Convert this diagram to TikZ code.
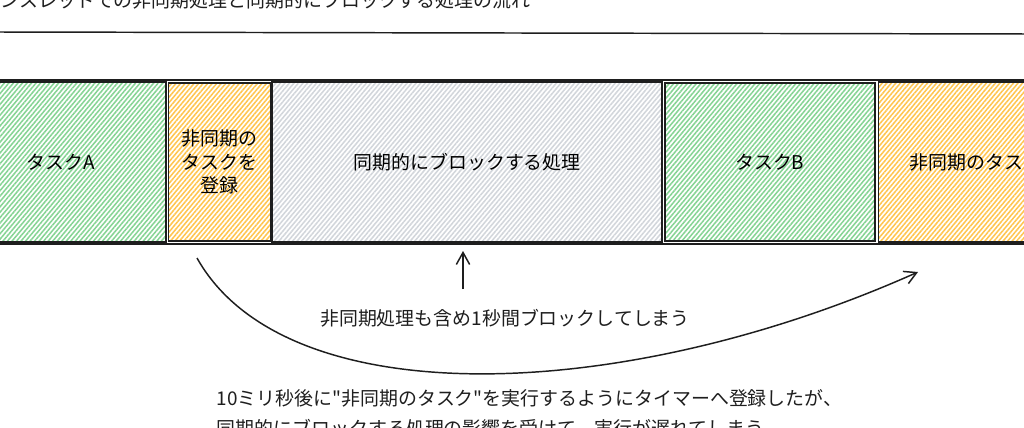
\documentclass[tikz,border=0pt]{standalone}
\usepackage{fontspec}
\newfontfamily\jpfont{Noto Sans CJK JP}
\usetikzlibrary{positioning, arrows.meta, patterns.meta}
\definecolor{taskgreen}{HTML}{86D494}
\definecolor{asyncorange}{HTML}{FFC550}
\definecolor{blockgray}{HTML}{D2D6DB}
\definecolor{inkline}{HTML}{1E1E1E}

\begin{document}
\begin{tikzpicture}[
    x=0.75pt, y=-0.75pt,
    >={Straight Barb[length=9pt,width=10pt]},
    font=\jpfont\fontsize{14.2}{21}\selectfont,
    line width=1.1pt,
    draw=inkline,
    node distance=0.75pt,
    slot/.style 2 args={minimum width=#1*0.75pt, minimum height=#2*0.75pt},
    box/.style={draw=inkline, line width=1.2pt, rectangle, inner sep=0pt, align=center},
    hatch/.style={pattern={Lines[angle=50, distance=2.6pt, line width=1.15pt]}, pattern color=#1},
    label/.style={text=inkline, inner sep=0pt}
  ]

  \useasboundingbox (0,0) rectangle (1024,428);
  \clip (0,0) rectangle (1024,428);
  \fill[white] (0,0) rectangle (1024,428);

  % --- TITLE ---
  \node[label, anchor=base west] (title) at (0,8) {ンスレッドでの非同期処理と同期的にブロックする処理の流れ};
  \coordinate (ruleL) at (-5,32);
  \coordinate (ruleR) at (1030,34);
  \draw[inkline] (ruleL) -- (ruleR);

  % --- TIMELINE ---
  \node[box, slot={1140}{164}] (lane) at (490,162) {};
  \node[box, hatch=taskgreen, slot={210}{160}] (taskA) at (61,162) {タスクA};
  \node[box, hatch=asyncorange, slot={102}{158}, right=of taskA,
        font=\jpfont\fontsize{14.2}{17.5}\selectfont] (regA) {非同期の\\タスクを\\登録};
  \node[box, hatch=blockgray, slot={390}{160}, right=0pt of regA] (block) {同期的にブロックする処理};
  \node[box, hatch=taskgreen, slot={210}{158}, right=of block] (taskB) {タスクB};
  \node[box, hatch=asyncorange, slot={195}{160}, right=1.5pt of taskB] (asyncTask) {非同期のタスク};

  % --- NOTES ---
  \node[label] (blockNote) at (505,318) {非同期処理も含め1秒間ブロックしてしまう};
  \node[label, anchor=north west, align=left, font=\jpfont\fontsize{14.2}{22.5}\selectfont] (delayNote) at (216,389)
    {10ミリ秒後に"非同期のタスク"を実行するようにタイマーへ登録したが、\\同期的にブロックする処理の影響を受けて、実行が遅れてしまう};

  % --- CONNECTORS ---
  \coordinate (blockTail) at (463,289);
  \coordinate (blockTip) at (463,251);
  \draw[->] (blockTail) -- (blockTip);

  % timer: from the registration down and round to the async task
  \coordinate (timerFrom) at (197,258);
  \coordinate (timerTo) at (918,272);
  \draw[->] (timerFrom) .. controls (285,415) and (620,405) .. (timerTo);

\end{tikzpicture}
\end{document}
